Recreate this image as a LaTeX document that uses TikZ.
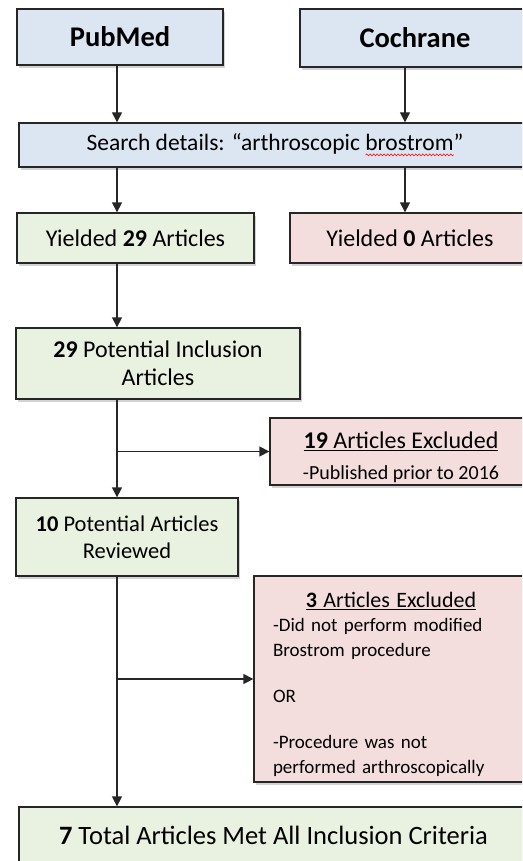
\documentclass[tikz,border=0pt]{standalone}
\usepackage{fontspec}
\setmainfont{Carlito}
\usetikzlibrary{arrows.meta,shadows,decorations.pathmorphing}

\definecolor{srcblue}{RGB}{220,230,242}
\definecolor{keepgreen}{RGB}{233,241,224}
\definecolor{dropred}{RGB}{244,222,221}

% red wavy spell-check line
\newlength\wavelen
\newcommand{\spellwave}[1]{\settowidth{\wavelen}{#1}\rlap{\tikz[baseline=0pt]\draw[red, line width=0.6pt, decorate,
    decoration={snake, amplitude=0.9pt, segment length=3.5pt}] (0pt,-4pt) -- (\wavelen,-4pt);}#1}

\begin{document}
\begin{tikzpicture}[
    x=1pt, y=-1pt,
    >={Triangle[width=10pt,length=10pt]},
    box/.style={draw=black!85, line width=1.3pt, inner sep=0pt,
        drop shadow={shadow xshift=2pt, shadow yshift=-3pt, opacity=0.35}},
    srcbox/.style={box, fill=srcblue},
    keepbox/.style={box, fill=keepgreen},
    dropbox/.style={box, fill=dropred}, 
    flow/.style={line width=1.3pt, draw=black!85}
]
\clip (0,0) rectangle (522,861);

% Databases
\node[srcbox, minimum width=206pt, minimum height=56pt, font=\fontsize{28.5}{32}\selectfont\bfseries]
    (pubmed) at (120,37) {PubMed};
\node[srcbox, minimum width=230pt, minimum height=58pt, font=\fontsize{28.5}{32}\selectfont\bfseries]
    (cochrane) at (415,38) {Cochrane};

% Search terms
\node[srcbox, minimum width=512pt, minimum height=44pt, font=\fontsize{23.5}{27}\selectfont]
    (search) at (275,145) {Search details: “arthroscopic \spellwave{brostrom}”};

% Column guides
\coordinate (lcol) at (117,0);
\coordinate (rcol) at (405,0);

% Yields
\node[keepbox, minimum width=237pt, minimum height=50pt, font=\fontsize{24}{28}\selectfont]
    (yield29) at (135.5,238) {Yielded \textbf{29} Articles};
\node[dropbox, minimum width=240pt, minimum height=50pt, font=\fontsize{24}{28}\selectfont]
    (yield0) at (410,238) {Yielded \textbf{0} Articles};

% Screening
\node[keepbox, minimum width=284pt, minimum height=71pt, align=center, font=\fontsize{24}{28}\selectfont]
    (pot29) at (158,363.5) {\textbf{29} Potential Inclusion\\Articles};
\node[dropbox, minimum width=262pt, minimum height=67pt, align=center, font=\fontsize{20}{31}\selectfont]
    (excl19) at (401,451.5) {\rule{0pt}{28pt}\underline{\fontsize{24}{28}\selectfont\textbf{19} Articles Excluded}\\-Published prior to 2016};
\node[keepbox, minimum width=222pt, minimum height=78pt, align=center, font=\fontsize{22.5}{27}\selectfont]
    (pot10) at (127,537) {\textbf{10} Potential Articles\\Reviewed};
\node[dropbox, minimum width=274pt, minimum height=206pt, align=left, text width=236pt, font=\fontsize{19}{25}\selectfont]
    (excl3) at (391,679) {\makebox[236pt]{\rule{0pt}{26pt}\underline{\fontsize{22}{26}\selectfont\textbf{3} Articles Excluded}}\\[-1pt]
    -Did not perform modified\\Brostrom procedure\\[21pt]OR\\[21pt]-Procedure was not\\performed arthroscopically};

% Result
\node[keepbox, minimum width=509pt, minimum height=56pt, font=\fontsize{26.5}{30}\selectfont]
    (final) at (273.5,835) {\textbf{7} Total Articles Met All Inclusion Criteria};

% Connectors
\draw[flow, ->] (pubmed.south -| lcol) -- (search.north -| lcol);
\draw[flow, ->] (cochrane.south -| rcol) -- (search.north -| rcol);
\draw[flow, ->] (search.south -| lcol) -- (yield29.north -| lcol);
\draw[flow, ->] (search.south -| rcol) -- (yield0.north -| rcol);
\draw[flow, ->] (yield29.south -| lcol) -- (pot29.north -| lcol);
\draw[flow, ->] (pot29.south -| lcol) -- (pot10.north -| lcol);
\draw[flow, ->] (excl19.west -| lcol) -- (excl19.west);
\draw[flow, ->] (pot10.south -| lcol) -- (final.north -| lcol);
\draw[flow, ->] (excl3.west -| lcol) -- (excl3.west);

\end{tikzpicture}
\end{document}
